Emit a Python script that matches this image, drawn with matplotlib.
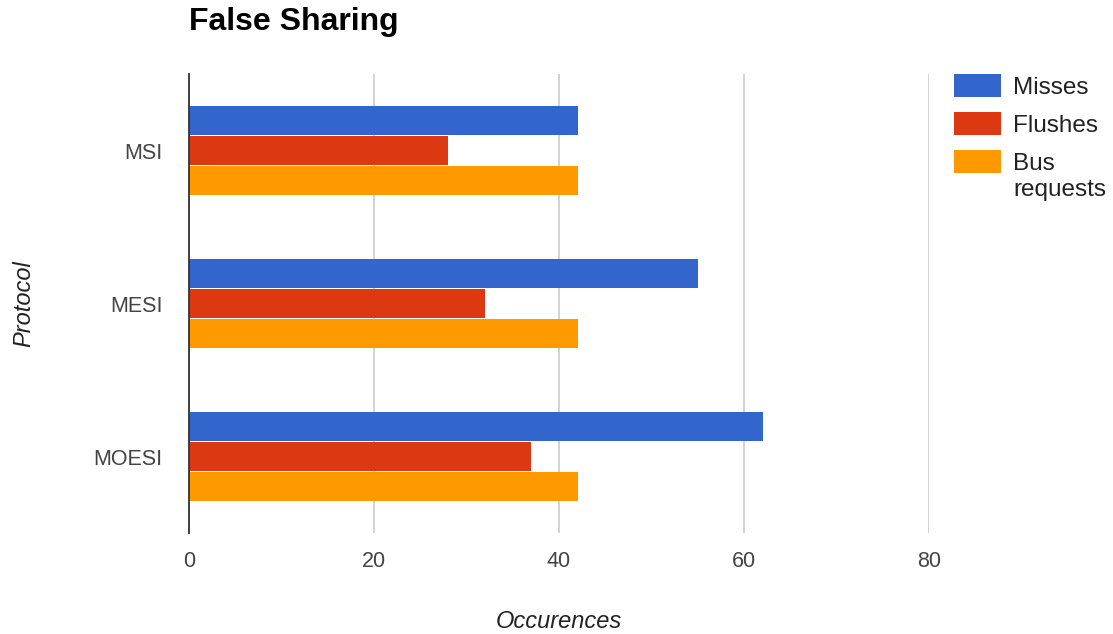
import numpy as np
import matplotlib.pyplot as plt
from matplotlib.patches import Rectangle

plt.rcParams['font.family'] = ['Liberation Sans', 'DejaVu Sans']

protocols = ['MSI', 'MESI', 'MOESI']
series = ['Misses', 'Flushes', 'Bus\nrequests']
misses = [42, 55, 62]
flushes = [28, 32, 37]
bus_requests = [42, 42, 42]
colors = ['#3366cc', '#dc3912', '#ff9900']

W, H = 1113, 634
fig = plt.figure(figsize=(W / 100, H / 100), dpi=100)
ax = fig.add_axes([189 / W, 1 - 533 / H, 740 / W, 459 / H])

y = np.arange(len(protocols))
h = 0.19
for i, vals in enumerate([misses, flushes, bus_requests]):
    ax.barh(y + (i - 1) * 0.197, vals, height=h, color=colors[i], zorder=3)

ax.set_xlim(0, 80)
ax.set_ylim(2.5, -0.5)
ax.set_xticks([0, 20, 40, 60, 80])
ax.set_yticks(y)
ax.set_yticklabels(protocols)
ax.grid(axis='x', color='#cccccc', linewidth=1.2, zorder=0)
for s in ['top', 'right', 'bottom']:
    ax.spines[s].set_visible(False)
ax.spines['left'].set_color('#333333')
ax.spines['left'].set_linewidth(1.3)
ax.spines['left'].set_zorder(4)
ax.tick_params(length=0, labelsize=15.5, labelcolor='#444444')
ax.tick_params(axis='x', pad=13)
ax.tick_params(axis='y', pad=19)

ax.set_xlabel('Occurences', fontsize=17, style='italic', color='#222222', labelpad=27)
ax.set_ylabel('Protocol', fontsize=17, style='italic', color='#222222', labelpad=42)
fig.text(189 / W, 1 - 22 / H, 'False Sharing', fontsize=23, fontweight='bold',
         va='center', ha='left')

# legend drawn by hand so the box sits beside the first line of a wrapped label
for i, (name, c) in enumerate(zip(series, colors)):
    top = 74 + 38 * i
    fig.patches.append(Rectangle((954 / W, 1 - (top + 23) / H), 47 / W, 23 / H,
                                 transform=fig.transFigure, facecolor=c,
                                 edgecolor='none'))
    fig.text(1013 / W, 1 - (top + 3) / H, name, fontsize=17.5, color='#222222',
             va='top', ha='left', linespacing=1.25)

fig.savefig('out.png', dpi=100)
